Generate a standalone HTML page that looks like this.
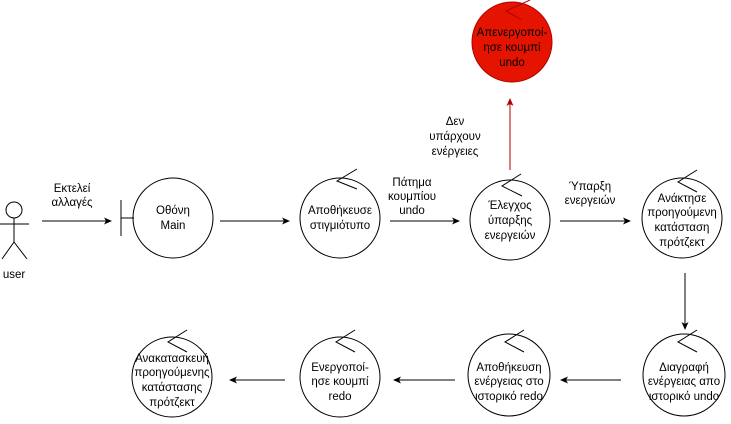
<!DOCTYPE html>
<html><head><meta charset="utf-8"><style>
html,body{margin:0;padding:0;background:#fff;}
svg{display:block;}
text{font-family:"Liberation Sans","DejaVu Sans",sans-serif;font-size:11.5px;fill:#000;text-anchor:middle;}
</style></head><body>
<svg width="731" height="424" viewBox="0 0 731 424" xmlns="http://www.w3.org/2000/svg">
<defs>
<marker id="a" markerWidth="8" markerHeight="8" refX="7" refY="4" orient="auto" markerUnits="userSpaceOnUse"><path d="M0,0.5 L8,4 L0,7.5 L2,4 Z" fill="#000"/></marker>
<marker id="r" markerWidth="8" markerHeight="8" refX="7" refY="4" orient="auto" markerUnits="userSpaceOnUse"><path d="M0,0.5 L8,4 L0,7.5 L2,4 Z" fill="#b20000"/></marker>
</defs>
<g stroke="#000" fill="none" stroke-width="1">
<!-- actor -->
<circle cx="14" cy="210" r="8"/>
<line x1="14" y1="218" x2="14" y2="242"/>
<line x1="0" y1="224" x2="29" y2="224"/>
<line x1="14" y1="242" x2="2" y2="259"/>
<line x1="14" y1="242" x2="27" y2="259"/>
<!-- boundary -->
<line x1="121" y1="200" x2="121" y2="236"/>
<line x1="121" y1="218" x2="134" y2="218"/>
<circle cx="173" cy="218" r="40"/>
<!-- controls -->
<circle cx="340" cy="218" r="40"/>
<path d="M357,169 L337,181 L357,189"/>
<circle cx="510" cy="220" r="40"/>
<path d="M521,174 L502,186 L522,196"/>
<circle cx="682" cy="218" r="40"/>
<path d="M697,170 L678,182 L697,192"/>
<circle cx="684" cy="375" r="41"/>
<path d="M697,330 L678,342 L697,352"/>
<circle cx="509" cy="375" r="41"/>
<path d="M524,330 L505,342 L524,352"/>
<circle cx="340" cy="377" r="40"/>
<path d="M355,330 L336,342 L355,352"/>
<circle cx="172" cy="377" r="40"/>
<path d="M187,330 L168,342 L187,352"/>
<!-- arrows -->
<line x1="42" y1="221" x2="111" y2="221" marker-end="url(#a)"/>
<line x1="220" y1="221" x2="289" y2="221" marker-end="url(#a)"/>
<line x1="390" y1="221" x2="459" y2="221" marker-end="url(#a)"/>
<line x1="560" y1="221" x2="630" y2="221" marker-end="url(#a)"/>
<line x1="685" y1="273" x2="685" y2="329" marker-end="url(#a)"/>
<line x1="621" y1="380" x2="561" y2="380" marker-end="url(#a)"/>
<line x1="455" y1="380" x2="394" y2="380" marker-end="url(#a)"/>
<line x1="285" y1="380" x2="230" y2="380" marker-end="url(#a)"/>
</g>
<!-- red -->
<circle cx="512" cy="42" r="40" fill="#e51400" stroke="#b20000"/>
<path d="M530,0 L506,11 L522,20" fill="none" stroke="#b20000"/>
<line x1="510" y1="170" x2="510" y2="99" stroke="#b20000" marker-end="url(#r)"/>
<text x="14" y="278">user</text>
<text x="72" y="192">Εκτελεί</text><text x="72" y="206">αλλαγές</text>
<text x="173" y="214">Οθόνη</text><text x="173" y="229">Main</text>
<text x="340" y="214">Αποθήκευσε</text><text x="340" y="229">στιγμιότυπο</text>
<text x="412" y="186">Πάτημα</text><text x="412" y="200">κουμπίου</text><text x="412" y="214">undo</text>
<text x="510" y="209">Έλεγχος</text><text x="510" y="224">ύπαρξης</text><text x="510" y="239">ενεργειών</text>
<text x="455" y="125">Δεν</text><text x="455" y="140">υπάρχουν</text><text x="455" y="155">ενέργειες</text>
<text x="512" y="36">Απενεργοποί-</text><text x="512" y="51">ησε κουμπί</text><text x="512" y="66">undo</text>
<text x="590" y="190">Ύπαρξη</text><text x="590" y="204">ενεργειών</text>
<text x="682" y="202">Ανάκτησε</text><text x="682" y="216">προηγούμενη</text><text x="682" y="231">κατάσταση</text><text x="682" y="246">πρότζεκτ</text>
<text x="684" y="371">Διαγραφή</text><text x="684" y="385">ενέργειας απο</text><text x="684" y="400">ιστορικό undo</text>
<text x="509" y="371">Αποθήκευση</text><text x="509" y="385">ενέργειας στο</text><text x="509" y="400">ιστορικό redo</text>
<text x="340" y="371">Ενεργοποί-</text><text x="340" y="385">ησε κουμπί</text><text x="340" y="400">redo</text>
<text x="172" y="362">Ανακατασκευή</text><text x="172" y="376">προηγούμενης</text><text x="172" y="391">κατάστασης</text><text x="172" y="406">πρότζεκτ</text>
</svg>
</body></html>
